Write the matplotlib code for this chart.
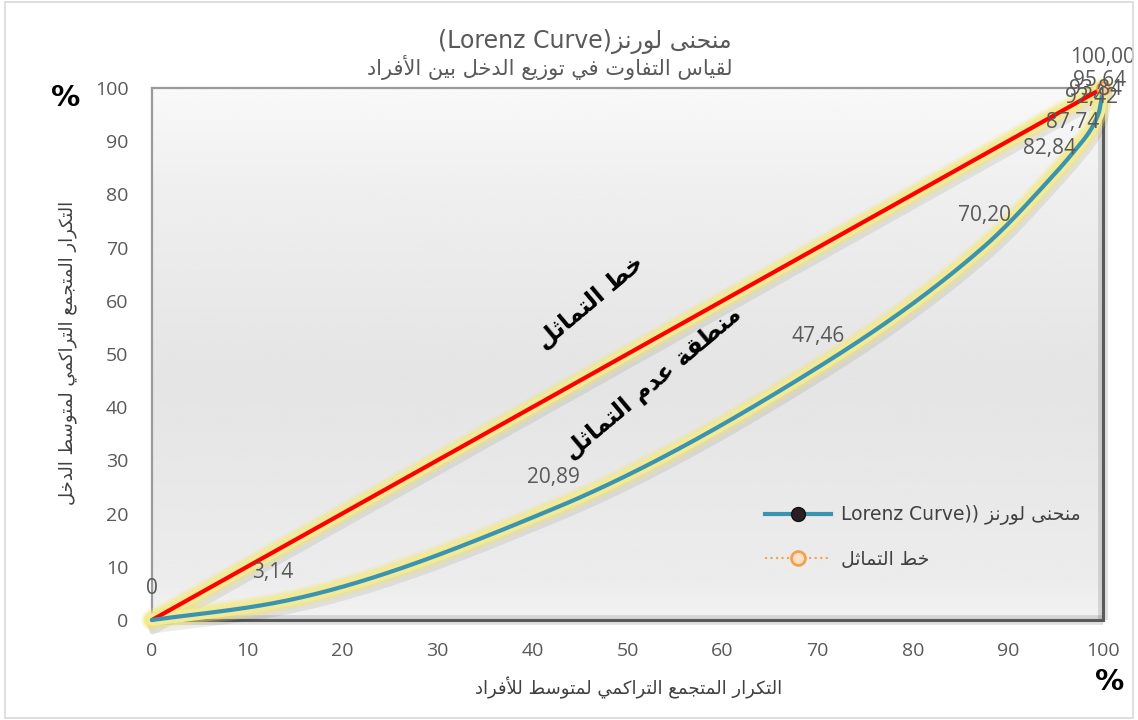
import matplotlib
matplotlib.use("Agg")
import matplotlib.pyplot as plt
import numpy as np
from matplotlib.lines import Line2D
import matplotlib.patheffects as pe

# --- Arabic shaping (no external libs): presentation forms + RTL order ---
# letter: (isolated, final, initial, medial); initial/medial None -> right-joining only
FORMS = {
    'ا': (0xFE8D, 0xFE8E, None, None), 'أ': (0xFE83, 0xFE84, None, None),
    'إ': (0xFE87, 0xFE88, None, None), 'آ': (0xFE81, 0xFE82, None, None),
    'ب': (0xFE8F, 0xFE90, 0xFE91, 0xFE92), 'ة': (0xFE93, 0xFE94, None, None),
    'ت': (0xFE95, 0xFE96, 0xFE97, 0xFE98), 'ث': (0xFE99, 0xFE9A, 0xFE9B, 0xFE9C),
    'ج': (0xFE9D, 0xFE9E, 0xFE9F, 0xFEA0), 'ح': (0xFEA1, 0xFEA2, 0xFEA3, 0xFEA4),
    'خ': (0xFEA5, 0xFEA6, 0xFEA7, 0xFEA8), 'د': (0xFEA9, 0xFEAA, None, None),
    'ذ': (0xFEAB, 0xFEAC, None, None), 'ر': (0xFEAD, 0xFEAE, None, None),
    'ز': (0xFEAF, 0xFEB0, None, None), 'س': (0xFEB1, 0xFEB2, 0xFEB3, 0xFEB4),
    'ط': (0xFEC1, 0xFEC2, 0xFEC3, 0xFEC4), 'ع': (0xFEC9, 0xFECA, 0xFECB, 0xFECC),
    'ف': (0xFED1, 0xFED2, 0xFED3, 0xFED4), 'ق': (0xFED5, 0xFED6, 0xFED7, 0xFED8),
    'ك': (0xFED9, 0xFEDA, 0xFEDB, 0xFEDC), 'ل': (0xFEDD, 0xFEDE, 0xFEDF, 0xFEE0),
    'م': (0xFEE1, 0xFEE2, 0xFEE3, 0xFEE4), 'ن': (0xFEE5, 0xFEE6, 0xFEE7, 0xFEE8),
    'ه': (0xFEE9, 0xFEEA, 0xFEEB, 0xFEEC), 'و': (0xFEED, 0xFEEE, None, None),
    'ى': (0xFEEF, 0xFEF0, None, None), 'ي': (0xFEF1, 0xFEF2, 0xFEF3, 0xFEF4),
}
LAM_ALEF = {'ا': (0xFEFB, 0xFEFC), 'أ': (0xFEF7, 0xFEF8),
            'إ': (0xFEF9, 0xFEFA), 'آ': (0xFEF5, 0xFEF6)}


def ar(text):
    out = []
    i = 0
    n = len(text)
    while i < n:
        c = text[i]
        if c not in FORMS:
            out.append(c)
            i += 1
            continue
        prev = text[i - 1] if i > 0 else ''
        joins_prev = prev in FORMS and FORMS[prev][2] is not None
        if c == 'ل' and i + 1 < n and text[i + 1] in LAM_ALEF:
            iso, fin = LAM_ALEF[text[i + 1]]
            out.append(chr(fin if joins_prev else iso))
            i += 2
            continue
        nxt = text[i + 1] if i + 1 < n else ''
        joins_next = FORMS[c][2] is not None and nxt in FORMS
        iso, fin, ini, med = FORMS[c]
        if joins_prev and joins_next:
            g = med
        elif joins_prev:
            g = fin
        elif joins_next:
            g = ini
        else:
            g = iso
        out.append(chr(g))
        i += 1
    return ''.join(out)[::-1]


# --- data ---
pop_cum = [0, 12.7, 42.2, 70.0, 87.5, 94.4, 96.8, 98.8, 99.2, 99.6, 100]
income_cum = [0, 3.14, 20.89, 47.46, 70.20, 82.84, 87.74, 92.42, 93.84, 95.64, 100.00]
equality_x = [0, 100]
equality_y = [0, 100]
ticks = list(range(0, 101, 10))


def smooth(xs, ys, steps=60):
    # monotone cubic Hermite (Fritsch-Carlson) through the points
    x = np.asarray(xs, float)
    y = np.asarray(ys, float)
    h = np.diff(x)
    d = np.diff(y) / h
    m = np.zeros_like(y)
    m[0], m[-1] = d[0], d[-1]
    for k in range(1, len(x) - 1):
        if d[k - 1] * d[k] > 0:
            w1 = 2 * h[k] + h[k - 1]
            w2 = h[k] + 2 * h[k - 1]
            m[k] = (w1 + w2) / (w1 / d[k - 1] + w2 / d[k])
    ox, oy = [], []
    for k in range(len(x) - 1):
        t = np.linspace(0, 1, steps)
        h00 = 2 * t ** 3 - 3 * t ** 2 + 1
        h10 = t ** 3 - 2 * t ** 2 + t
        h01 = -2 * t ** 3 + 3 * t ** 2
        h11 = t ** 3 - t ** 2
        ox.append(x[k] + t * h[k])
        oy.append(h00 * y[k] + h10 * h[k] * m[k] + h01 * y[k + 1] + h11 * h[k] * m[k + 1])
    return np.concatenate(ox), np.concatenate(oy)


fig = plt.figure(figsize=(11.38, 7.2), dpi=100)
fig.patch.set_facecolor('white')
ax = fig.add_axes([152 / 1138, 1 - 620 / 720, (1103 - 152) / 1138, (620 - 88) / 720])

# outer chart border
fig.add_artist(plt.Rectangle((5 / 1138, 2 / 720), 1128 / 1138, 716 / 720, transform=fig.transFigure,
                             fill=False, edgecolor='#d9d9d9', linewidth=1.2))

# plot area gradient
prof = np.interp(np.linspace(0, 1, 200), [0, 0.08, 0.45, 0.8, 1.0], [0.95, 0.925, 0.895, 0.935, 0.975])
grad = np.repeat(prof[:, None], 2, axis=1)
ax.imshow(grad, extent=[0, 100, 0, 100], origin='lower', aspect='auto', cmap='gray',
          vmin=0, vmax=1, zorder=0, interpolation='bicubic')

ax.set_xlim(0, 100)
ax.set_ylim(0, 100)
ax.set_xticks(ticks)
ax.set_yticks(ticks)
ax.tick_params(length=0, labelsize=14, labelcolor='#595959')
ax.tick_params(axis='x', pad=16)
ax.tick_params(axis='y', pad=17)
for lab in ax.get_xticklabels() + ax.get_yticklabels():
    lab.set_fontfamily('Open Sans')

for s in ['left', 'top']:
    ax.spines[s].set_color('#9a9a9a')
    ax.spines[s].set_linewidth(1.6)
for s in ['right', 'bottom']:
    ax.spines[s].set_color('#5a5a5a')
    ax.spines[s].set_linewidth(2.2)
# bevel shadow on right/bottom
ax.plot([1.0, 1.0], [0.0, 1.0], transform=ax.transAxes, color='#000000', alpha=0.12, lw=7,
        clip_on=False, zorder=1, solid_capstyle='butt')
ax.plot([0.0, 1.0], [0.0, 0.0], transform=ax.transAxes, color='#000000', alpha=0.12, lw=7,
        clip_on=False, zorder=1, solid_capstyle='butt')


def glow_line(x, y, color, z):
    ax.plot(x, y, color='#000000', lw=9, alpha=0.0, zorder=z, clip_on=False,
            path_effects=[pe.SimpleLineShadow(offset=(2, -5), shadow_color='#000000', alpha=0.07)])
    for w, a in [(15, 0.18), (12, 0.35)]:
        ax.plot(x, y, color='#f3e670', lw=w, alpha=a, solid_capstyle='round', zorder=z, clip_on=False)
    ax.plot(x, y, color='#f2ea94', lw=8.5, solid_capstyle='round', zorder=z, clip_on=False)
    ax.plot(x, y, color=color, lw=3, solid_capstyle='round', zorder=z + 1, clip_on=False)


glow_line(equality_x, equality_y, '#ff0000', 3)
sx, sy = smooth(pop_cum, income_cum)
glow_line(sx, sy, '#3b93b2', 3)
ax.plot(equality_x[-1:], equality_y[-1:], 'o', ms=9, mfc='#fbc99a', mec='#f4a050', mew=1.5,
        zorder=6, clip_on=False)

# data labels above each Lorenz point
for x, y in zip(pop_cum, income_cum):
    txt = '0' if y == 0 else f'{y:.2f}'.replace('.', ',')
    ax.annotate(txt, (x, y), xytext=(0, 31), textcoords='offset pixels', ha='center', va='center',
                fontsize=15, color='#595959', fontfamily='Open Sans', zorder=7, annotation_clip=False)

# inner annotations
ax.text(46.1, 59.8, ar('خط التماثل'), rotation=40, ha='center', va='center', fontsize=17,
        fontweight='bold', color='black', rotation_mode='anchor')
ax.text(52.7, 44.5, ar('منطقة عدم التماثل'), rotation=40, ha='center', va='center', fontsize=17,
        fontweight='bold', color='black', rotation_mode='anchor')

# legend
h1 = Line2D([], [], color='#3b93b2', lw=3, marker='o', ms=10, mfc='#2a1f22', mec='#111111')
h2 = Line2D([], [], color='#f4a050', lw=1.5, ls=':', marker='o', ms=10, mfc='#fde0c5', mec='#f4a050', mew=2)
leg = ax.legend([h1, h2], ['Lorenz Curve)) ' + ar('منحنى لورنز'), ar('خط التماثل')],
                loc='upper left', bbox_to_anchor=(0.637, 0.23), frameon=False, fontsize=13.5,
                handlelength=3.5, labelspacing=1.3, borderaxespad=0, handletextpad=0.55)
for t in leg.get_texts():
    t.set_color('#404040')

# titles and axis labels
fig.text(732 / 1138, 1 - 42 / 720, '(Lorenz Curve)' + ar('منحنى لورنز'), ha='right', va='center',
         fontsize=17, color='#595959')
fig.text(733 / 1138, 1 - 67 / 720, ar('لقياس التفاوت في توزيع الدخل بين الأفراد'), ha='right',
         va='center', fontsize=15, color='#595959')
fig.text(629 / 1138, 1 - 688 / 720, ar('التكرار المتجمع التراكمي لمتوسط للأفراد'), ha='center',
         va='center', fontsize=13, color='#404040')
fig.text(68 / 1138, 1 - 353 / 720, ar('التكرار المتجمع التراكمي لمتوسط الدخل'), ha='center',
         va='center', rotation=90, fontsize=13, color='#404040')
fig.text(66 / 1138, 1 - 98 / 720, '%', ha='center', va='center', fontsize=21, fontweight='bold')
fig.text(1110 / 1138, 1 - 682 / 720, '%', ha='center', va='center', fontsize=21, fontweight='bold')

fig.savefig('out.png', dpi=100)
